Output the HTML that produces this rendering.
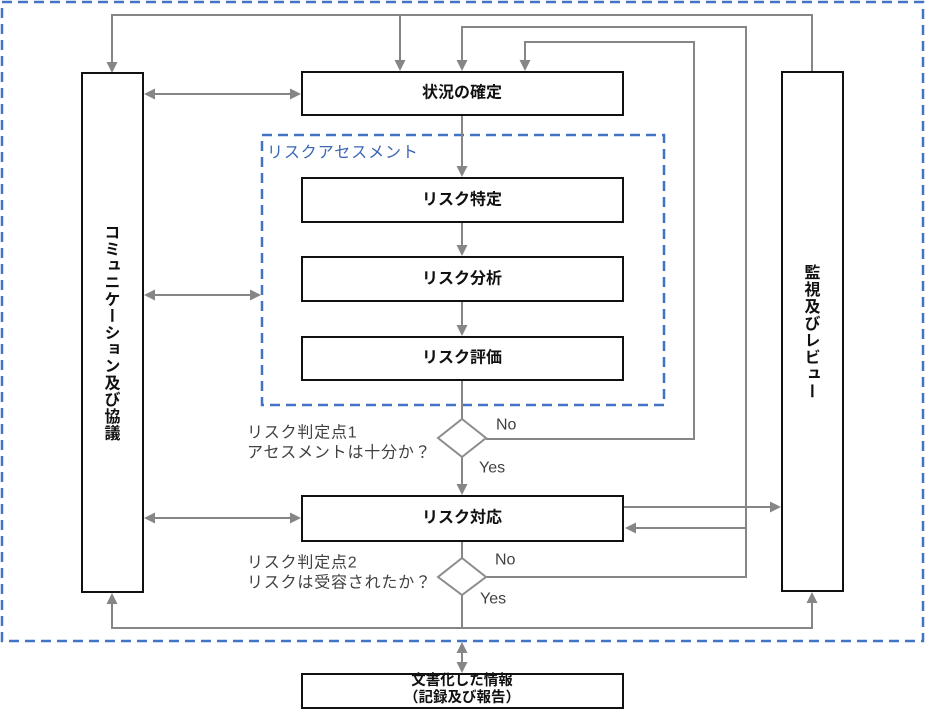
<!DOCTYPE html>
<html><head><meta charset="utf-8"><style>
html,body{margin:0;padding:0;background:#fff;}
body{width:927px;height:720px;position:relative;overflow:hidden;font-family:"Liberation Sans","Noto Sans CJK JP",sans-serif;}
svg{position:absolute;left:0;top:0;}
.v{position:absolute;display:flex;align-items:center;justify-content:center;}
.v span{writing-mode:vertical-rl;font-weight:bold;font-size:16px;color:#111;font-family:"Noto Sans CJK JP",sans-serif;}
</style></head><body>
<svg width="927" height="720" viewBox="0 0 927 720" xmlns="http://www.w3.org/2000/svg" font-family="'Liberation Sans','Noto Sans CJK JP',sans-serif">
<rect x="2" y="2" width="921" height="639" fill="none" stroke="#4472C4" stroke-width="2.5" stroke-dasharray="10 6"/>
<rect x="262" y="135" width="402" height="270" fill="none" stroke="#4472C4" stroke-width="2.5" stroke-dasharray="10 6"/>

<g fill="none" stroke="#868686" stroke-width="2">
<polyline points="812,72 812,15 112,15 112,62"/>
<line x1="400" y1="15" x2="400" y2="61"/>
<polyline points="462,62 462,27 746,27 746,577 486,577"/>
<line x1="746" y1="528" x2="636" y2="528"/>
<polyline points="525,62 525,42 694,42 694,439 486,439"/>
<line x1="154" y1="94" x2="291" y2="94"/>
<line x1="154" y1="295" x2="251" y2="295"/>
<line x1="154" y1="518" x2="291" y2="518"/>
<line x1="623" y1="507" x2="771" y2="507"/>
<line x1="462" y1="115" x2="462" y2="167"/>
<line x1="462" y1="222" x2="462" y2="246"/>
<line x1="462" y1="301" x2="462" y2="326"/>
<line x1="462" y1="380" x2="462" y2="419"/>
<line x1="462" y1="457" x2="462" y2="485"/>
<line x1="462" y1="541" x2="462" y2="558"/>
<line x1="462" y1="595" x2="462" y2="628"/>
<polyline points="112,604 112,628 812,628 812,603"/>
<line x1="462" y1="652" x2="462" y2="663"/>
</g>
<g fill="#868686">
<polygon points="106.5,62 117.5,62 112,73"/>
<polygon points="394.5,60 405.5,60 400,71"/>
<polygon points="456.5,60 467.5,60 462,71"/>
<polygon points="519.5,60 530.5,60 525,71"/>
<polygon points="636,522.5 636,533.5 625,528"/>
<polygon points="155,88.5 155,99.5 144,94"/>
<polygon points="290,88.5 290,99.5 301,94"/>
<polygon points="155,289.5 155,300.5 144,295"/>
<polygon points="250,289.5 250,300.5 261,295"/>
<polygon points="155,512.5 155,523.5 144,518"/>
<polygon points="290,512.5 290,523.5 301,518"/>
<polygon points="770,501.5 770,512.5 781,507"/>
<polygon points="456.5,166 467.5,166 462,177"/>
<polygon points="456.5,245 467.5,245 462,256"/>
<polygon points="456.5,325 467.5,325 462,336"/>
<polygon points="456.5,484 467.5,484 462,495"/>
<polygon points="106.5,604 117.5,604 112,593"/>
<polygon points="806.5,603 817.5,603 812,592"/>
<polygon points="456.5,653 467.5,653 462,642"/>
<polygon points="456.5,662 467.5,662 462,673"/>
</g>

<g fill="#fff" stroke="#111" stroke-width="2">
<rect x="82" y="73" width="61" height="519"/>
<rect x="782" y="72" width="61" height="519"/>
<rect x="302" y="72" width="321" height="43"/>
<rect x="302" y="178" width="321" height="44"/>
<rect x="302" y="257" width="321" height="44"/>
<rect x="302" y="337" width="321" height="43"/>
<rect x="302" y="496" width="321" height="45"/>
<rect x="302" y="674" width="321" height="34"/>
</g>
<g fill="#fff" stroke="#8c8c8c" stroke-width="2">
<polygon points="462,419 486,438 462,457 438,438"/>
<polygon points="462,558 486,577 462,595 438,577"/>
</g>

<g font-weight="bold" font-size="16" fill="#111" text-anchor="middle" dominant-baseline="central">
<text x="462" y="93">状況の確定</text>
<text x="462" y="200">リスク特定</text>
<text x="462" y="279">リスク分析</text>
<text x="462" y="358">リスク評価</text>
<text x="462" y="518">リスク対応</text>
</g>
<g font-weight="bold" font-size="14.5" fill="#111" text-anchor="middle" dominant-baseline="central">
<text x="462" y="681">文書化した情報</text>
<text x="462" y="698">（記録及び報告）</text>
</g>
<text x="267" y="153" font-size="16" fill="#3a66b5" dominant-baseline="central" letter-spacing="0.9">リスクアセスメント</text>
<g font-size="16" fill="#404040" dominant-baseline="central">
<text x="247" y="433" letter-spacing="0.8">リスク判定点1</text>
<text x="247" y="453" letter-spacing="0.8">アセスメントは十分か？</text>
<text x="247" y="563" letter-spacing="0.8">リスク判定点2</text>
<text x="247" y="583" letter-spacing="0.8">リスクは受容されたか？</text>
<text x="496" y="425">No</text>
<text x="479" y="468">Yes</text>
<text x="495" y="560">No</text>
<text x="480" y="599">Yes</text>
</g>
</svg>
<div class="v" style="left:82px;top:73px;width:61px;height:519px;"><span style="letter-spacing:0.7px;">コミュニケーション及び協議</span></div>
<div class="v" style="left:782px;top:72px;width:61px;height:519px;"><span style="letter-spacing:1px;">監視及びレビュー</span></div>
</body></html>
